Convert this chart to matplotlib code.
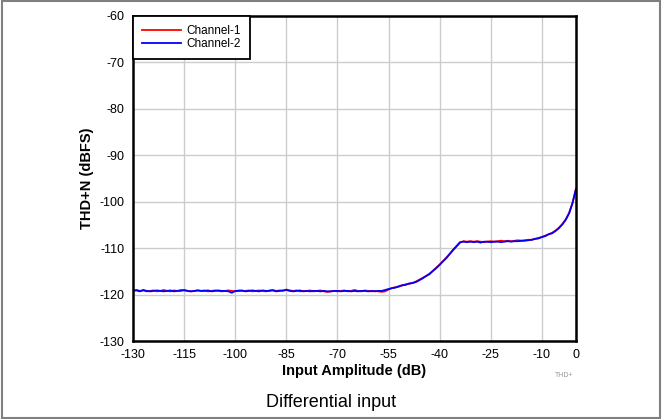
import numpy as np
import matplotlib
matplotlib.use("Agg")
import matplotlib.pyplot as plt
from matplotlib.patches import Rectangle

plt.rcParams['font.family'] = ['Liberation Sans', 'DejaVu Sans']
plt.rcParams['axes.unicode_minus'] = False

# input amplitude (dB), 1 dB steps
amp = list(range(-130, 1))

# THD+N (dBFS)
ch1 = [-119.1, -119.0, -119.2, -119.1, -119.3, -119.2, -119.1, -119.3, -119.2, -119.0,
       -119.2, -119.3, -119.1, -119.2, -119.0, -119.1, -119.2, -119.3, -119.2, -119.1,
       -119.2, -119.1, -119.3, -119.2, -119.1, -119.2, -119.3, -119.2, -119.1, -119.2,
       -119.3, -119.1, -119.2, -119.2, -119.1, -119.3, -119.2, -119.1, -119.2, -119.3,
       -119.1, -119.0, -119.2, -119.1, -119.2, -118.9, -119.1, -119.2, -119.1, -119.3,
       -119.2, -119.2, -119.1, -119.3, -119.2, -119.1, -119.3, -119.4, -119.3, -119.2,
       -119.3, -119.2, -119.1, -119.3, -119.2, -119.0, -119.2, -119.3, -119.1, -119.2,
       -119.3, -119.2, -119.3, -119.4, -119.3, -118.9, -118.6, -118.4, -118.3, -118.0,
       -117.8, -117.7, -117.5, -117.2, -116.8, -116.4, -116.0, -115.5, -114.9, -114.2,
       -113.5, -112.8, -112.0, -111.2, -110.4, -109.6, -108.8, -108.5, -108.6, -108.5,
       -108.6, -108.5, -108.6, -108.7, -108.6, -108.5, -108.6, -108.5, -108.4, -108.5,
       -108.4, -108.5, -108.4, -108.3, -108.4, -108.3, -108.2, -108.2, -108.0, -107.8,
       -107.6, -107.3, -107.0, -106.7, -106.2, -105.6, -104.8, -103.8, -102.4, -100.2,
       -97.2]
ch2 = [-119.2, -119.1, -119.3, -119.0, -119.2, -119.3, -119.2, -119.1, -119.2, -119.3,
       -119.2, -119.1, -119.3, -119.2, -119.2, -119.0, -119.2, -119.3, -119.2, -119.1,
       -119.2, -119.2, -119.1, -119.3, -119.2, -119.1, -119.2, -119.2, -119.3, -119.6,
       -119.2, -119.2, -119.1, -119.3, -119.2, -119.1, -119.2, -119.3, -119.1, -119.2,
       -119.2, -119.1, -119.3, -119.2, -119.1, -119.0, -119.2, -119.3, -119.2, -119.1,
       -119.3, -119.2, -119.3, -119.2, -119.2, -119.3, -119.2, -119.3, -119.3, -119.2,
       -119.2, -119.3, -119.2, -119.2, -119.3, -119.2, -119.3, -119.2, -119.2, -119.3,
       -119.2, -119.3, -119.2, -119.2, -119.0, -118.8, -118.6, -118.5, -118.2, -118.0,
       -117.9, -117.6, -117.5, -117.3, -116.9, -116.5, -116.0, -115.6, -114.9, -114.3,
       -113.6, -112.8, -112.1, -111.2, -110.3, -109.5, -108.7, -108.6, -108.7, -108.6,
       -108.7, -108.6, -108.8, -108.6, -108.6, -108.7, -108.6, -108.6, -108.7, -108.6,
       -108.5, -108.6, -108.5, -108.5, -108.4, -108.4, -108.3, -108.2, -108.0, -107.9,
       -107.6, -107.4, -107.0, -106.8, -106.3, -105.7, -104.9, -103.9, -102.5, -100.3,
       -97.3]

xticks = [-130, -115, -100, -85, -70, -55, -40, -25, -10, 0]
yticks = list(range(-130, -59, 10))

fig = plt.figure(figsize=(6.62, 4.19), dpi=100)
ax = fig.add_axes([0.201, 0.186, 0.669, 0.776])

ax.plot(amp, ch1, color='red', lw=1.3, label='Channel-1')
ax.plot(amp, ch2, color='blue', lw=1.3, label='Channel-2')

ax.set_xlim(-130, 0)
ax.set_ylim(-130, -60)
ax.set_xticks(xticks)
ax.set_yticks(yticks)
ax.grid(True, color='#cccccc', lw=1)
ax.set_axisbelow(True)
ax.tick_params(length=0, labelsize=9, pad=6)
for s in ax.spines.values():
    s.set_linewidth(1.8)
    s.set_color('black')

ax.set_xlabel('Input Amplitude (dB)', fontsize=10.5, fontweight='bold', labelpad=2)
ax.set_ylabel('THD+N (dBFS)', fontsize=10.5, fontweight='bold', labelpad=4)

leg = ax.legend(loc='upper left', fontsize=8.5, borderaxespad=0, fancybox=False,
                handlelength=3.3, handletextpad=0.45, borderpad=0.75,
                labelspacing=0.1, framealpha=1)
leg.get_frame().set_edgecolor('black')
leg.get_frame().set_linewidth(1.3)

fig.text(0.838, 0.1, 'THD+', fontsize=5, color='#999999')
fig.text(0.5, 0.04, 'Differential input', fontsize=13, ha='center', va='center')

fig.patches.append(Rectangle((0.003, 0.003), 0.994, 0.994, transform=fig.transFigure,
                             fill=False, edgecolor='#808080', lw=1.5))

fig.savefig('out.png', dpi=100)
